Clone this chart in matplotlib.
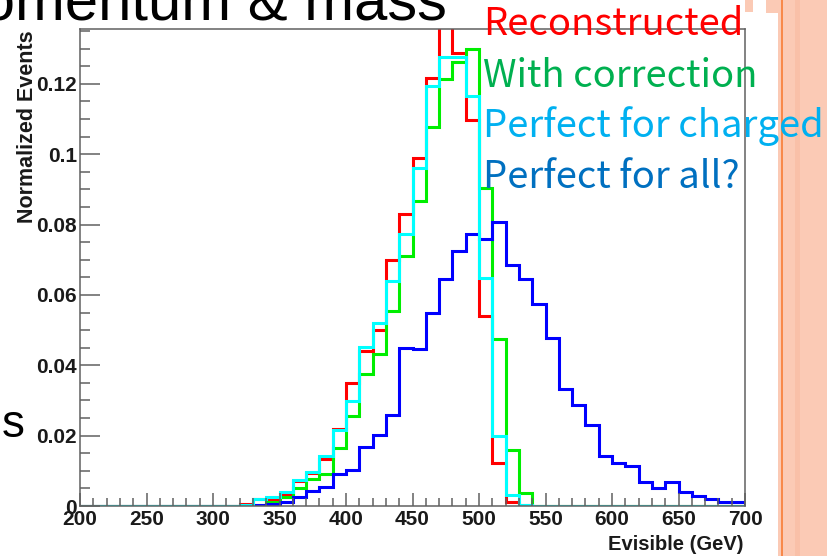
import numpy as np
import matplotlib
matplotlib.use('Agg')
import matplotlib.pyplot as plt
from matplotlib.patches import Rectangle
from matplotlib.ticker import MultipleLocator, FuncFormatter

# Evisible histograms, 10 GeV bins from 200 to 700 GeV
bin_lo, bin_hi, bin_w = 200, 700, 10

reco = [0, 0, 0, 0, 0, 0, 0, 0, 0, 0,
        0, 0, 0.0005, 0.0019, 0.0020, 0.0034, 0.0070, 0.0094, 0.0134, 0.0220,
        0.0349, 0.0441, 0.0500, 0.0698, 0.0829, 0.0989, 0.1217, 0.1420, 0.1289, 0.1098,
        0.0541, 0.0122, 0.0012, 0.0003, 0, 0, 0, 0, 0, 0,
        0, 0, 0, 0, 0, 0, 0, 0, 0, 0]
corrected = [0, 0, 0, 0, 0, 0, 0, 0, 0, 0,
             0, 0, 0, 0.0003, 0.0010, 0.0025, 0.0050, 0.0076, 0.0091, 0.0165,
             0.0257, 0.0374, 0.0433, 0.0555, 0.0711, 0.0867, 0.1076, 0.1215, 0.1262, 0.1300,
             0.0903, 0.0474, 0.0160, 0.0036, 0, 0, 0, 0, 0, 0,
             0, 0, 0, 0, 0, 0, 0, 0, 0, 0]
perfect_charged = [0, 0, 0, 0, 0, 0, 0, 0, 0, 0,
                   0, 0, 0.0003, 0.0019, 0.0025, 0.0041, 0.0074, 0.0096, 0.0141, 0.0217,
                   0.0298, 0.0452, 0.0520, 0.0641, 0.0774, 0.0960, 0.1195, 0.1275, 0.1275, 0.1165,
                   0.0649, 0.0198, 0.0031, 0.0003, 0, 0, 0, 0, 0, 0,
                   0, 0, 0, 0, 0, 0, 0, 0, 0, 0]
perfect_all = [0, 0, 0, 0, 0, 0, 0, 0, 0, 0,
               0, 0.0001, 0.0001, 0.0003, 0.0006, 0.0011, 0.0027, 0.0044, 0.0054, 0.0091,
               0.0102, 0.0168, 0.0202, 0.0260, 0.0450, 0.0446, 0.0549, 0.0646, 0.0724, 0.0774,
               0.0760, 0.0806, 0.0684, 0.0646, 0.0574, 0.0479, 0.0333, 0.0286, 0.0230, 0.0143,
               0.0122, 0.0114, 0.0068, 0.0050, 0.0068, 0.0041, 0.0029, 0.0019, 0.0010, 0.0012]

labels = ['Reconstructed', 'With correction', 'Perfect for charged', 'Perfect for all?']
label_colors = ['#ff0000', '#00b050', '#00b0f0', '#0070c0']

edges = np.arange(bin_lo, bin_hi + bin_w, bin_w)

W, H = 827, 556
fig = plt.figure(figsize=(W / 100, H / 100), dpi=100)

# slide decoration on the right
fig.patches.append(Rectangle((778 / W, 0), 49 / W, 1, transform=fig.transFigure,
                             color='#fbcab5', lw=0, zorder=0))
fig.patches.append(Rectangle((795 / W, 0), 5 / W, 1, transform=fig.transFigure,
                             color='#f9c0a8', lw=0, zorder=0))
fig.patches.append(Rectangle((780.5 / W, 0), 2 / W, 1, transform=fig.transFigure,
                             color='#f8894a', lw=0, zorder=0))
fig.patches.append(Rectangle((745 / W, 1 - 12 / H), 8 / W, 12 / H, transform=fig.transFigure,
                             color='#fbcab5', lw=0, zorder=0))
fig.patches.append(Rectangle((766 / W, 1 - 13 / H), 12 / W, 13 / H, transform=fig.transFigure,
                             color='#fbcab5', lw=0, zorder=0))

ax = fig.add_axes([80 / W, (H - 506) / H, 665 / W, 477 / H])
ax.stairs(reco, edges, color='#ff0000', lw=2.2)
ax.stairs(corrected, edges, color='#00ee00', lw=2.2)
ax.stairs(perfect_all, edges, color='#0000ff', lw=2.2)
ax.stairs(perfect_charged, edges, color='#00ffff', lw=2.2)

ax.set_xlim(bin_lo, bin_hi)
ax.set_ylim(0, 0.1356)

for s in ax.spines.values():
    s.set_color('#606060')
    s.set_linewidth(1.1)

ax.xaxis.set_major_locator(MultipleLocator(50))
ax.xaxis.set_minor_locator(MultipleLocator(10))
ax.yaxis.set_major_locator(MultipleLocator(0.02))
ax.yaxis.set_minor_locator(MultipleLocator(0.005))
ax.yaxis.set_major_formatter(FuncFormatter(lambda v, p: '%g' % round(v, 3)))

ax.tick_params(axis='x', which='major', direction='in', length=9.5, width=1.1,
               color='#606060', pad=3)
ax.tick_params(axis='x', which='minor', direction='in', length=5.5, width=1.1,
               color='#606060')
ax.tick_params(axis='y', which='major', direction='in', length=14.5, width=1.1,
               color='#606060', pad=2)
ax.tick_params(axis='y', which='minor', direction='in', length=7.5, width=1.1,
               color='#606060')
for lab in ax.get_xticklabels() + ax.get_yticklabels():
    lab.set_fontfamily('Liberation Sans')
    lab.set_fontweight('bold')
    lab.set_fontsize(15)
    lab.set_color('#1a1a1a')

fig.text(743 / W, 1 - 545 / H, 'Evisible (GeV)', ha='right', va='center',
         family='Liberation Sans', weight='bold', fontsize=14.5, color='#1a1a1a')
fig.text(28 / W, 1 - 30 / H, 'Normalized Events', rotation=90, ha='center', va='top',
         family='Liberation Sans', weight='bold', fontsize=15.5, color='#1a1a1a')

# slide text around the plot
fig.text(447 / W, 1 - 20 / H, 'Momentum & mass', ha='right', va='baseline',
         family='Liberation Sans', fontsize=43, color='black')
fig.text(2 / W, 1 - 437 / H, 's', ha='left', va='baseline',
         family='Liberation Sans', fontsize=33, color='black')

baselines = [35, 87, 137, 188]
for txt, col, yb in zip(labels, label_colors, baselines):
    fig.text(483 / W, 1 - yb / H, txt, ha='left', va='baseline',
             family=['Noto Sans CJK JP', 'DejaVu Sans'], fontsize=27.5, color=col, zorder=5)

fig.savefig('out.png', dpi=100)
